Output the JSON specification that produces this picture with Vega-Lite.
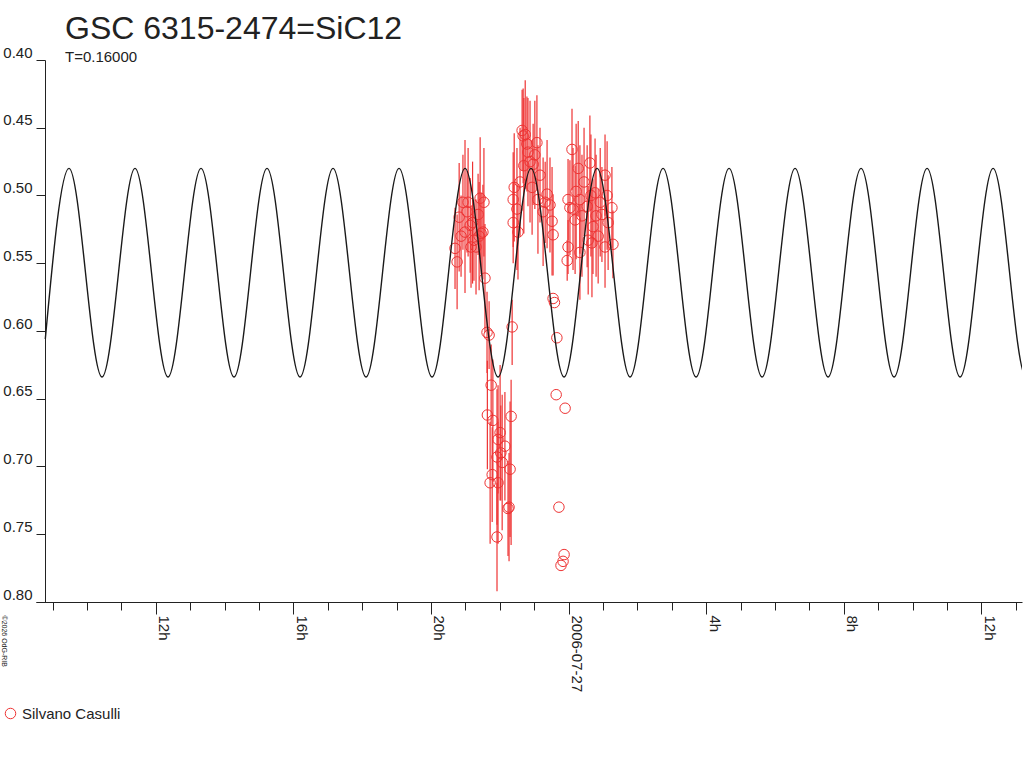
{
  "$schema": "https://vega.github.io/schema/vega-lite/v6.json",
  "autosize": {"type": "none"},
  "width": 986,
  "height": 542,
  "padding": {"left": 36, "top": 60, "right": 2, "bottom": 166},
  "background": "white",
  "title": {
    "text": "GSC 6315-2474=SiC12",
    "subtitle": "T=0.16000",
    "anchor": "start",
    "frame": "group",
    "dx": 29,
    "offset": -21,
    "font": "Liberation Sans",
    "fontSize": 32,
    "fontWeight": "normal",
    "color": "#222222",
    "subtitleFont": "Liberation Sans",
    "subtitleFontSize": 15,
    "subtitleColor": "#222222",
    "subtitlePadding": 4
  },
  "datasets": {
    "obs": [
      {"t": 20.70, "mag": 0.539, "lo": 0.509, "hi": 0.569},
      {"t": 20.76, "mag": 0.549, "lo": 0.514, "hi": 0.584},
      {"t": 20.82, "mag": 0.516, "lo": 0.476, "hi": 0.556},
      {"t": 20.875, "mag": 0.530, "lo": 0.500, "hi": 0.560},
      {"t": 20.93, "mag": 0.505, "lo": 0.470, "hi": 0.540},
      {"t": 20.99, "mag": 0.527, "lo": 0.459, "hi": 0.572},
      {"t": 21.05, "mag": 0.512, "lo": 0.482, "hi": 0.542},
      {"t": 21.08, "mag": 0.505, "lo": 0.465, "hi": 0.545},
      {"t": 21.14, "mag": 0.522, "lo": 0.487, "hi": 0.557},
      {"t": 21.165, "mag": 0.538, "lo": 0.508, "hi": 0.568},
      {"t": 21.21, "mag": 0.520, "lo": 0.475, "hi": 0.565},
      {"t": 21.25, "mag": 0.533, "lo": 0.503, "hi": 0.563},
      {"t": 21.31, "mag": 0.538, "lo": 0.503, "hi": 0.573},
      {"t": 21.37, "mag": 0.514, "lo": 0.484, "hi": 0.544},
      {"t": 21.40, "mag": 0.530, "lo": 0.490, "hi": 0.570},
      {"t": 21.43, "mag": 0.502, "lo": 0.457, "hi": 0.547},
      {"t": 21.46, "mag": 0.528, "lo": 0.498, "hi": 0.558},
      {"t": 21.51, "mag": 0.527, "lo": 0.492, "hi": 0.562},
      {"t": 21.54, "mag": 0.505, "lo": 0.465, "hi": 0.545},
      {"t": 21.57, "mag": 0.561, "lo": 0.521, "hi": 0.601},
      {"t": 21.63, "mag": 0.601, "lo": 0.571, "hi": 0.631},
      {"t": 21.69, "mag": 0.603, "lo": 0.578, "hi": 0.628},
      {"t": 21.75, "mag": 0.640, "lo": 0.610, "hi": 0.670},
      {"t": 21.64, "mag": 0.662, "lo": 0.622, "hi": 0.702},
      {"t": 21.80, "mag": 0.666, "lo": 0.621, "hi": 0.711},
      {"t": 21.72, "mag": 0.712, "lo": 0.667, "hi": 0.757},
      {"t": 21.78, "mag": 0.706, "lo": 0.671, "hi": 0.741},
      {"t": 21.92, "mag": 0.693, "lo": 0.643, "hi": 0.743},
      {"t": 21.92, "mag": 0.752, "lo": 0.712, "hi": 0.792},
      {"t": 21.95, "mag": 0.680, "lo": 0.640, "hi": 0.720},
      {"t": 21.95, "mag": 0.712, "lo": 0.667, "hi": 0.757},
      {"t": 22.01, "mag": 0.675, "lo": 0.625, "hi": 0.725},
      {"t": 22.03, "mag": 0.690, "lo": 0.655, "hi": 0.725},
      {"t": 22.07, "mag": 0.697, "lo": 0.647, "hi": 0.747},
      {"t": 22.15, "mag": 0.685, "lo": 0.645, "hi": 0.725},
      {"t": 22.24, "mag": 0.731, "lo": 0.696, "hi": 0.766},
      {"t": 22.27, "mag": 0.730, "lo": 0.690, "hi": 0.770},
      {"t": 22.30, "mag": 0.702, "lo": 0.652, "hi": 0.752},
      {"t": 22.33, "mag": 0.663, "lo": 0.636, "hi": 0.758},
      {"t": 22.36, "mag": 0.597, "lo": 0.577, "hi": 0.625},
      {"t": 22.39, "mag": 0.503, "lo": 0.468, "hi": 0.538},
      {"t": 22.42, "mag": 0.494, "lo": 0.454, "hi": 0.534},
      {"t": 22.39, "mag": 0.520, "lo": 0.490, "hi": 0.550},
      {"t": 22.53, "mag": 0.527, "lo": 0.492, "hi": 0.562},
      {"t": 22.50, "mag": 0.510, "lo": 0.465, "hi": 0.555},
      {"t": 22.59, "mag": 0.490, "lo": 0.450, "hi": 0.530},
      {"t": 22.65, "mag": 0.452, "lo": 0.422, "hi": 0.482},
      {"t": 22.68, "mag": 0.456, "lo": 0.421, "hi": 0.491},
      {"t": 22.74, "mag": 0.455, "lo": 0.415, "hi": 0.495},
      {"t": 22.70, "mag": 0.478, "lo": 0.428, "hi": 0.528},
      {"t": 22.79, "mag": 0.462, "lo": 0.427, "hi": 0.497},
      {"t": 22.82, "mag": 0.468, "lo": 0.428, "hi": 0.508},
      {"t": 22.88, "mag": 0.475, "lo": 0.430, "hi": 0.520},
      {"t": 22.94, "mag": 0.494, "lo": 0.459, "hi": 0.529},
      {"t": 22.97, "mag": 0.477, "lo": 0.447, "hi": 0.507},
      {"t": 23.02, "mag": 0.470, "lo": 0.430, "hi": 0.510},
      {"t": 23.08, "mag": 0.461, "lo": 0.426, "hi": 0.496},
      {"t": 23.11, "mag": 0.503, "lo": 0.463, "hi": 0.543},
      {"t": 23.17, "mag": 0.485, "lo": 0.450, "hi": 0.520},
      {"t": 23.26, "mag": 0.512, "lo": 0.472, "hi": 0.552},
      {"t": 23.32, "mag": 0.505, "lo": 0.475, "hi": 0.535},
      {"t": 23.375, "mag": 0.499, "lo": 0.459, "hi": 0.539},
      {"t": 23.46, "mag": 0.507, "lo": 0.472, "hi": 0.542},
      {"t": 23.52, "mag": 0.519, "lo": 0.479, "hi": 0.559},
      {"t": 23.55, "mag": 0.529, "lo": 0.499, "hi": 0.559},
      {"t": 23.55, "mag": 0.576, "lo": 0.576, "hi": 0.576},
      {"t": 23.59, "mag": 0.579, "lo": 0.579, "hi": 0.579},
      {"t": 23.66, "mag": 0.605, "lo": 0.605, "hi": 0.605},
      {"t": 23.64, "mag": 0.647, "lo": 0.647, "hi": 0.647},
      {"t": 23.90, "mag": 0.657, "lo": 0.657, "hi": 0.657},
      {"t": 23.72, "mag": 0.730, "lo": 0.730, "hi": 0.730},
      {"t": 23.87, "mag": 0.765, "lo": 0.765, "hi": 0.765},
      {"t": 23.84, "mag": 0.770, "lo": 0.770, "hi": 0.770},
      {"t": 23.78, "mag": 0.773, "lo": 0.773, "hi": 0.773},
      {"t": 23.96, "mag": 0.548, "lo": 0.533, "hi": 0.563},
      {"t": 23.985, "mag": 0.538, "lo": 0.518, "hi": 0.558},
      {"t": 23.985, "mag": 0.503, "lo": 0.473, "hi": 0.533},
      {"t": 24.04, "mag": 0.509, "lo": 0.474, "hi": 0.544},
      {"t": 24.10, "mag": 0.466, "lo": 0.436, "hi": 0.496},
      {"t": 24.13, "mag": 0.510, "lo": 0.465, "hi": 0.555},
      {"t": 24.19, "mag": 0.518, "lo": 0.478, "hi": 0.558},
      {"t": 24.22, "mag": 0.497, "lo": 0.447, "hi": 0.547},
      {"t": 24.28, "mag": 0.480, "lo": 0.445, "hi": 0.515},
      {"t": 24.33, "mag": 0.503, "lo": 0.463, "hi": 0.543},
      {"t": 24.33, "mag": 0.542, "lo": 0.507, "hi": 0.577},
      {"t": 24.39, "mag": 0.515, "lo": 0.470, "hi": 0.560},
      {"t": 24.45, "mag": 0.490, "lo": 0.450, "hi": 0.530},
      {"t": 24.54, "mag": 0.508, "lo": 0.463, "hi": 0.553},
      {"t": 24.57, "mag": 0.533, "lo": 0.493, "hi": 0.573},
      {"t": 24.62, "mag": 0.476, "lo": 0.441, "hi": 0.511},
      {"t": 24.65, "mag": 0.500, "lo": 0.455, "hi": 0.545},
      {"t": 24.68, "mag": 0.535, "lo": 0.495, "hi": 0.575},
      {"t": 24.71, "mag": 0.523, "lo": 0.488, "hi": 0.558},
      {"t": 24.77, "mag": 0.498, "lo": 0.458, "hi": 0.538},
      {"t": 24.80, "mag": 0.515, "lo": 0.470, "hi": 0.560},
      {"t": 24.86, "mag": 0.530, "lo": 0.495, "hi": 0.565},
      {"t": 24.92, "mag": 0.505, "lo": 0.465, "hi": 0.545},
      {"t": 24.97, "mag": 0.514, "lo": 0.479, "hi": 0.549},
      {"t": 25.06, "mag": 0.485, "lo": 0.455, "hi": 0.515},
      {"t": 25.06, "mag": 0.538, "lo": 0.508, "hi": 0.568},
      {"t": 25.12, "mag": 0.500, "lo": 0.460, "hi": 0.540},
      {"t": 25.15, "mag": 0.520, "lo": 0.485, "hi": 0.555},
      {"t": 25.26, "mag": 0.509, "lo": 0.479, "hi": 0.539},
      {"t": 25.29, "mag": 0.536, "lo": 0.511, "hi": 0.561}
    ],
    "fit": [
      {"t": 8.79, "mag": 0.606},
      {"t": 9.4793, "mag": 0.480},
      {"t": 10.4386, "mag": 0.634},
      {"t": 11.3979, "mag": 0.480},
      {"t": 12.3572, "mag": 0.634},
      {"t": 13.3165, "mag": 0.480},
      {"t": 14.2758, "mag": 0.634},
      {"t": 15.2351, "mag": 0.480},
      {"t": 16.1944, "mag": 0.634},
      {"t": 17.1537, "mag": 0.480},
      {"t": 18.1130, "mag": 0.634},
      {"t": 19.0723, "mag": 0.480},
      {"t": 20.0316, "mag": 0.634},
      {"t": 20.9909, "mag": 0.480},
      {"t": 21.9502, "mag": 0.634},
      {"t": 22.9095, "mag": 0.480},
      {"t": 23.8688, "mag": 0.634},
      {"t": 24.8281, "mag": 0.480},
      {"t": 25.7874, "mag": 0.634},
      {"t": 26.7467, "mag": 0.480},
      {"t": 27.7060, "mag": 0.634},
      {"t": 28.6653, "mag": 0.480},
      {"t": 29.6246, "mag": 0.634},
      {"t": 30.5839, "mag": 0.480},
      {"t": 31.5432, "mag": 0.634},
      {"t": 32.5025, "mag": 0.480},
      {"t": 33.4618, "mag": 0.634},
      {"t": 34.4211, "mag": 0.480},
      {"t": 35.3804, "mag": 0.634},
      {"t": 36.3397, "mag": 0.480},
      {"t": 37.2990, "mag": 0.634},
      {"t": 38.2583, "mag": 0.480}
    ]
  },
  "encoding": {
    "x": {
      "field": "t",
      "type": "quantitative",
      "scale": {"domain": [8.52, 37.18], "nice": false, "zero": false},
      "axis": {
        "title": "©2026 OdG-RIB",
        "titleFont": "Liberation Sans",
        "titleFontSize": 7,
        "titleFontWeight": "normal",
        "titleColor": "#222222",
        "titleAngle": 90,
        "titleAlign": "left",
        "titleBaseline": "bottom",
        "titleX": -36,
        "titleY": 13,
        "values": [9, 10, 11, 12, 13, 14, 15, 16, 17, 18, 19, 20, 21, 22, 23, 24, 25, 26, 27, 28, 29, 30, 31, 32, 33, 34, 35, 36, 37],
        "labelExpr": "datum.value % 4 != 0 ? '' : (datum.value == 24 ? '2006-07-27' : (datum.value % 24) + 'h')",
        "labelAngle": 90,
        "labelAlign": "left",
        "labelBaseline": "bottom",
        "labelPadding": 1,
        "labelFlush": false,
        "labelOverlap": false,
        "labelBound": false,
        "tickSize": {"condition": {"test": "datum.value % 4 === 0", "value": 12}, "value": 8}
      }
    },
    "y": {
      "field": "mag",
      "type": "quantitative",
      "scale": {"domain": [0.4, 0.8], "reverse": true, "nice": false, "zero": false},
      "axis": {
        "title": null,
        "values": [0.4, 0.45, 0.5, 0.55, 0.6, 0.65, 0.7, 0.75, 0.8],
        "format": ".2f",
        "offset": -9,
        "tickSize": 9,
        "labelPadding": 4,
        "labelAlign": "right",
        "labelBaseline": "bottom"
      }
    }
  },
  "layer": [
    {
      "data": {"name": "obs"},
      "mark": {"type": "rule", "color": "#ee3333", "strokeWidth": 1.2},
      "encoding": {
        "y": {"field": "lo", "type": "quantitative"},
        "y2": {"field": "hi"}
      }
    },
    {
      "data": {"name": "obs"},
      "mark": {"type": "point", "shape": "circle", "filled": false, "size": 110, "strokeWidth": 1, "opacity": 1},
      "encoding": {
        "color": {
          "datum": "Silvano Casulli",
          "scale": {"range": ["#ee3333"]},
          "legend": {
            "title": null,
            "orient": "none",
            "legendX": -33,
            "legendY": 646,
            "padding": 0,
            "labelFont": "Liberation Sans",
            "labelFontSize": 15,
            "labelColor": "#222222",
            "labelOffset": 4,
            "symbolSize": 110,
            "symbolStrokeWidth": 1,
            "symbolType": "circle"
          }
        }
      }
    },
    {
      "data": {"name": "fit"},
      "mark": {"type": "line", "color": "#1a1a1a", "strokeWidth": 1.4, "interpolate": "monotone", "clip": true},
      "encoding": {}
    }
  ],
  "config": {
    "font": "Liberation Sans",
    "view": {"stroke": null},
    "axis": {
      "grid": false,
      "domainColor": "#222222",
      "tickColor": "#222222",
      "labelColor": "#222222",
      "labelFont": "Liberation Sans",
      "labelFontSize": 15,
      "domainWidth": 1,
      "tickWidth": 1
    }
  }
}
